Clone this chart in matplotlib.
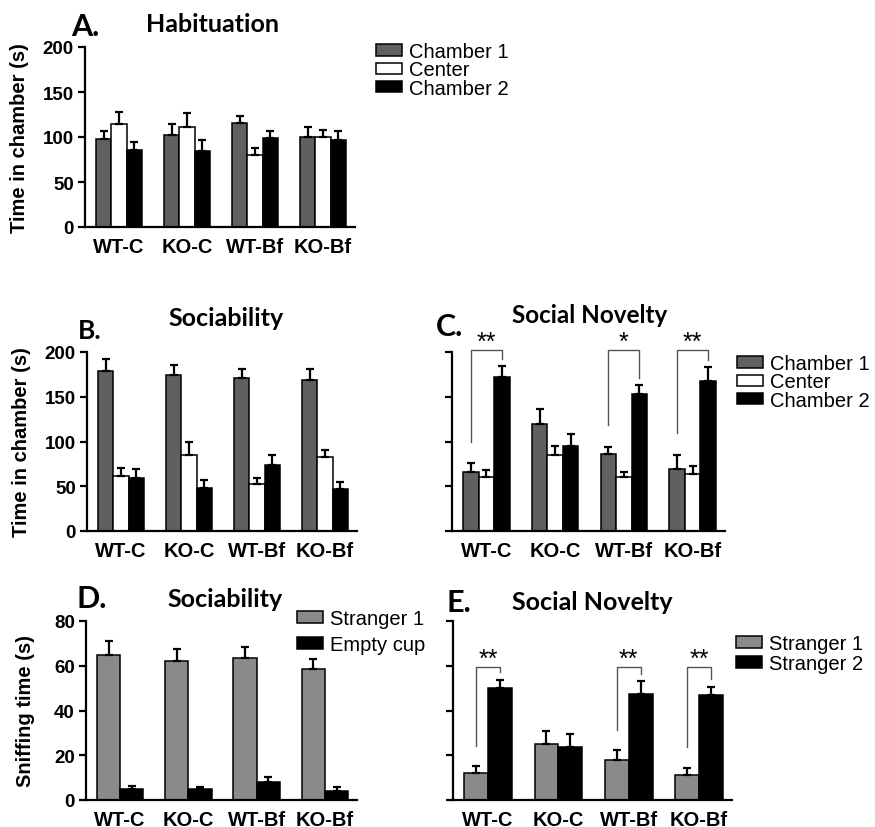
import matplotlib
matplotlib.use('Agg')
import matplotlib.pyplot as plt
import numpy as np

# ---------------- data ----------------
groups = ['WT-C', 'KO-C', 'WT-Bf', 'KO-Bf']
chamber_labels = ['Chamber 1', 'Center', 'Chamber 2']

hab_ch1 = [98, 102, 116, 100]
hab_ch1_err = [9, 12, 7, 11]
hab_center = [114, 111, 80, 100]
hab_center_err = [14, 16, 8, 8]
hab_ch2 = [86, 85, 99, 97]
hab_ch2_err = [8, 12, 8, 10]

soc_ch1 = [179, 174, 171, 169]
soc_ch1_err = [13, 12, 10, 12]
soc_center = [61, 85, 53, 83]
soc_center_err = [9, 15, 6, 7]
soc_ch2 = [59, 48, 74, 47]
soc_ch2_err = [10, 9, 11, 8]

nov_ch1 = [66, 120, 86, 69]
nov_ch1_err = [10, 16, 8, 16]
nov_center = [60, 85, 60, 64]
nov_center_err = [8, 10, 6, 9]
nov_ch2 = [172, 95, 153, 168]
nov_ch2_err = [12, 13, 10, 15]
nov_sig = ['**', '', '*', '**']

sniff_soc_labels = ['Stranger 1', 'Empty cup']
sniff_soc_s1 = [64.8, 62.1, 63.6, 58.4]
sniff_soc_s1_err = [6.1, 5.5, 4.9, 4.8]
sniff_soc_empty = [5.0, 4.8, 8.0, 4.0]
sniff_soc_empty_err = [1.3, 1.2, 2.4, 1.7]

sniff_nov_labels = ['Stranger 1', 'Stranger 2']
sniff_nov_s1 = [11.9, 24.9, 17.9, 11.0]
sniff_nov_s1_err = [3.3, 5.8, 4.3, 3.5]
sniff_nov_s2 = [50.2, 23.7, 47.5, 46.9]
sniff_nov_s2_err = [3.4, 5.6, 5.5, 3.8]
sniff_nov_sig = ['**', '', '**', '**']

# ---------------- style ----------------
W, H = 875, 828
C_CH1 = '#606060'
C_CEN = '#ffffff'
C_CH2 = '#000000'
C_S1 = '#8a8a8a'
TICKFONT = 'Liberation Sans'
TITLEFONT = 'Lato'

fig = plt.figure(figsize=(W / 100, H / 100), dpi=100)


def px_axes(l, r, t, b):
    return fig.add_axes([l / W, 1 - b / H, (r - l) / W, (b - t) / H])


def style_axes(ax, ymax, yticks, show_labels, ylabel=None, labelpad=10):
    for s in ['top', 'right']:
        ax.spines[s].set_visible(False)
    for s in ['left', 'bottom']:
        ax.spines[s].set_linewidth(1.6)
    ax.set_ylim(0, ymax)
    ax.set_xlim(-0.5, 3.47)
    ax.set_yticks(yticks)
    ax.set_xticks(np.arange(len(groups)))
    ax.set_xticklabels(groups, fontfamily=TICKFONT, fontweight='bold', fontsize=14.5)
    ax.tick_params(axis='x', length=0, pad=7)
    ax.tick_params(axis='y', length=5, width=1.6, pad=3, direction='out')
    if show_labels:
        ax.set_yticklabels([str(v) for v in yticks], fontfamily=TICKFONT,
                           fontweight='bold', fontsize=13.5)
    else:
        ax.set_yticklabels([])
    if ylabel:
        ax.set_ylabel(ylabel, fontfamily=TICKFONT, fontweight='bold',
                      fontsize=14.5, labelpad=labelpad)


def grouped_bars(ax, series, errs, colors, width):
    n = len(series)
    x = np.arange(len(groups))
    containers = []
    for i, (vals, err, col) in enumerate(zip(series, errs, colors)):
        off = (i - (n - 1) / 2) * width
        c = ax.bar(x + off, vals, width, color=col, edgecolor='black', linewidth=1.1,
                   yerr=[np.zeros(len(err)), err], capsize=3.2,
                   error_kw=dict(elinewidth=1.6, capthick=1.6, ecolor='black'),
                   zorder=2)
        containers.append(c)
    return containers


def brackets(ax, left_vals, left_err, right_vals, right_err, sig, width, n, top,
             lgap, rgap, star_y):
    x = np.arange(len(groups))
    for i, s in enumerate(sig):
        if not s:
            continue
        xl = x[i] + (0 - (n - 1) / 2) * width
        xr = x[i] + ((n - 1) - (n - 1) / 2) * width
        yl = left_vals[i] + left_err[i] + lgap
        yr = right_vals[i] + right_err[i] + rgap
        ax.plot([xl, xl, xr, xr], [yl, top, top, yr], color='#555555', lw=1.0,
                clip_on=False, zorder=3)
        ax.text((xl + xr) / 2, star_y, s, ha='center', va='center',
                fontfamily=TICKFONT, fontsize=18, color='black')


def legend(ax, handles, labels, x, y, spacing):
    ax.legend(handles, labels, loc='upper left',
              bbox_to_anchor=(x / W, 1 - y / H), bbox_transform=fig.transFigure,
              frameon=False, borderpad=0, borderaxespad=0,
              handlelength=1.3, handleheight=0.5, handletextpad=0.35,
              labelspacing=spacing,
              prop=dict(family=TICKFONT, size=14.5))


def label(x, y, text, size, family=TITLEFONT):
    fig.text(x / W, 1 - y / H, text, ha='center', va='center',
             fontfamily=family, fontweight='bold', fontsize=size)


# ---------------- A: Habituation ----------------
axA = px_axes(85, 355, 48, 228)
cA = grouped_bars(axA, [hab_ch1, hab_center, hab_ch2],
                  [hab_ch1_err, hab_center_err, hab_ch2_err],
                  [C_CH1, C_CEN, C_CH2], 0.225)
style_axes(axA, 200, [0, 50, 100, 150, 200], True, 'Time in chamber (s)')
legend(axA, cA, chamber_labels, 376, 43, -0.03)
label(85, 27, 'A.', 22)
label(212, 25, 'Habituation', 18)

# ---------------- B: Sociability ----------------
axB = px_axes(87, 357, 353, 532)
cB = grouped_bars(axB, [soc_ch1, soc_center, soc_ch2],
                  [soc_ch1_err, soc_center_err, soc_ch2_err],
                  [C_CH1, C_CEN, C_CH2], 0.225)
style_axes(axB, 200, [0, 50, 100, 150, 200], True, 'Time in chamber (s)')
label(90, 331, 'B.', 19)
label(226, 319, 'Sociability', 18)

# ---------------- C: Social Novelty ----------------
axC = px_axes(452, 725, 353, 532)
cC = grouped_bars(axC, [nov_ch1, nov_center, nov_ch2],
                  [nov_ch1_err, nov_center_err, nov_ch2_err],
                  [C_CH1, C_CEN, C_CH2], 0.225)
style_axes(axC, 200, [0, 50, 100, 150, 200], False)
brackets(axC, nov_ch1, nov_ch1_err, nov_ch2, nov_ch2_err, nov_sig, 0.225, 3,
         202.5, 24, 8, 211)
legend(axC, cC, chamber_labels, 737, 355, -0.03)
label(450, 327, 'C.', 22)
label(590, 316, 'Social Novelty', 17.5)

# ---------------- D: Sniffing sociability ----------------
axD = px_axes(86, 357, 622, 801)
cD = grouped_bars(axD, [sniff_soc_s1, sniff_soc_empty],
                  [sniff_soc_s1_err, sniff_soc_empty_err],
                  [C_S1, C_CH2], 0.34)
style_axes(axD, 80, [0, 20, 40, 60, 80], True, 'Sniffing time (s)', labelpad=14)
legend(axD, cD, sniff_soc_labels, 297, 610, 0.35)
label(92, 599, 'D.', 22)
label(225, 600, 'Sociability', 18)

# ---------------- E: Sniffing social novelty ----------------
axE = px_axes(453, 732, 622, 801)
cE = grouped_bars(axE, [sniff_nov_s1, sniff_nov_s2],
                  [sniff_nov_s1_err, sniff_nov_s2_err],
                  [C_S1, C_CH2], 0.34)
style_axes(axE, 80, [0, 20, 40, 60, 80], False)
brackets(axE, sniff_nov_s1, sniff_nov_s1_err, sniff_nov_s2, sniff_nov_s2_err,
         sniff_nov_sig, 0.34, 2, 59.4, 9, 3.5, 63.2)
legend(axE, cE, sniff_nov_labels, 736, 635, 0.05)
label(459, 603, 'E.', 22)
label(592, 603, 'Social Novelty', 18)

fig.savefig('out.png', dpi=100)
